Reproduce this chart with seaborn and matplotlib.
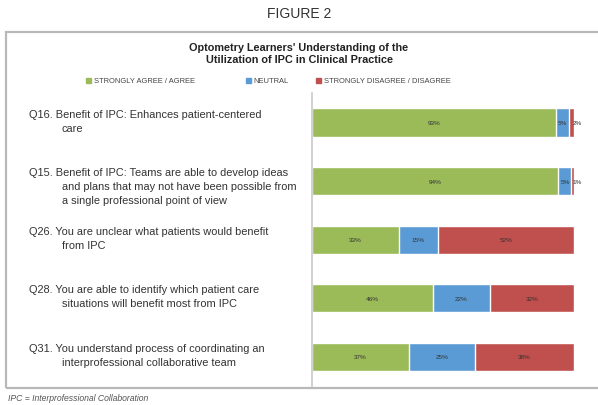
import matplotlib
matplotlib.use("Agg")
import matplotlib.pyplot as plt
import matplotlib.transforms as mtransforms
from matplotlib.patches import Rectangle
import pandas as pd
import seaborn as sns

# Survey responses (%)
questions = ["Q16", "Q15", "Q26", "Q28", "Q31"]
first_lines = [
    "Q16. Benefit of IPC: Enhances patient-centered",
    "Q15. Benefit of IPC: Teams are able to develop ideas",
    "Q26. You are unclear what patients would benefit",
    "Q28. You are able to identify which patient care",
    "Q31. You understand process of coordinating an",
]
more_lines = [
    ["care"],
    ["and plans that may not have been possible from", "a single professional point of view"],
    ["from IPC"],
    ["situations will benefit most from IPC"],
    ["interprofessional collaborative team"],
]
agree = [93, 94, 33, 46, 37]
neutral = [5, 5, 15, 22, 25]
disagree = [2, 1, 52, 32, 38]
series = ["STRONGLY AGREE / AGREE", "NEUTRAL", "STRONGLY DISAGREE / DISAGREE"]
colors = ["#9BBB59", "#5B9BD5", "#C0504D"]

df = pd.DataFrame({"q": questions, "agree": agree, "neutral": neutral, "disagree": disagree})
df["c1"] = df["agree"]
df["c2"] = df["agree"] + df["neutral"]
df["c3"] = df["c2"] + df["disagree"]

sns.set_style("white")
plt.rcParams["font.family"] = ["Liberation Sans", "DejaVu Sans"]

fig = plt.figure(figsize=(5.98, 4.06), dpi=100)
ax = fig.add_axes([0.522, 0.047, 0.438, 0.721])

# stacked bars drawn as layered cumulative totals
for col, c in zip(["c3", "c2", "c1"], colors[::-1]):
    sns.barplot(data=df, y="q", x=col, orient="h", color=c, width=0.48,
                saturation=1, ax=ax, order=questions)

ax.set_xlim(0, 100)
ax.set_ylim(4.5, -0.5)
ax.set_xlabel("")
ax.set_ylabel("")
ax.set_xticks([])
ax.set_yticks([])
for s in ["top", "right", "bottom"]:
    ax.spines[s].set_visible(False)
ax.spines["left"].set_color("#c8c8c8")
ax.spines["left"].set_linewidth(1.2)

# segment labels
for i, row in df.iterrows():
    starts = [0, row["c1"], row["c2"]]
    vals = [row["agree"], row["neutral"], row["disagree"]]
    for s0, v in zip(starts, vals):
        x = s0 + v / 2
        if v <= 2:
            x = s0 + v + 1.2
        ax.text(x, i, f"{v}%", ha="center", va="center", fontsize=4.6, color="#333333")

# question labels (hanging indent)
trans = mtransforms.blended_transform_factory(fig.transFigure, ax.transData)
line_step = 14 / 58.75
for i, (first, rest) in enumerate(zip(first_lines, more_lines)):
    y0 = i - 0.15
    ax.text(29 / 598, y0, first, transform=trans, ha="left", va="center",
            fontsize=7.9, color="#333333", clip_on=False)
    for k, ln in enumerate(rest):
        ax.text(62 / 598, y0 + (k + 1) * line_step, ln, transform=trans,
                ha="left", va="center", fontsize=7.9, color="#333333", clip_on=False)

# frame
fig.patches.append(Rectangle((6 / 598, 1 - 389 / 406), 600 / 598, 356 / 406,
                             transform=fig.transFigure, fill=False,
                             edgecolor="#b8b8b8", linewidth=1.6))

fig.text(0.5, 1 - 14 / 406, "FIGURE 2", ha="center", va="center",
         fontsize=10, color="#333333")
fig.text(0.5, 1 - 54 / 406,
         "Optometry Learners' Understanding of the\nUtilization of IPC in Clinical Practice",
         ha="center", va="center", fontsize=7.8, fontweight="bold", color="#222222",
         linespacing=1.2)

# legend
leg_x = [86, 246, 316]
for lx, name, c in zip(leg_x, series, colors):
    fig.patches.append(Rectangle((lx / 598, 1 - 84 / 406), 5 / 598, 5 / 406,
                                 transform=fig.transFigure, color=c))
    fig.text((lx + 7.5) / 598, 1 - 81.5 / 406, name, ha="left", va="center",
             fontsize=5.4, color="#444444")

fig.text(8 / 598, 1 - 399 / 406, "IPC = Interprofessional Collaboration",
         ha="left", va="center", fontsize=6.2, style="italic", color="#555555")

fig.savefig("out.png", dpi=100)
